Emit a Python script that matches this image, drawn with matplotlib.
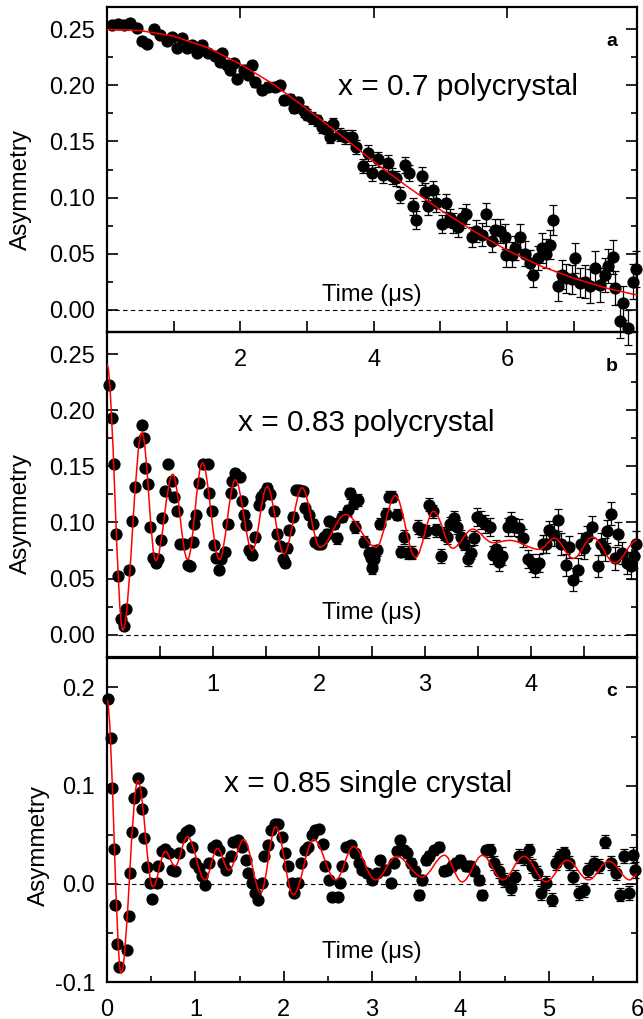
import numpy as np
import matplotlib
matplotlib.use("Agg")
import matplotlib.pyplot as plt
from matplotlib.path import Path
from matplotlib.patches import PathPatch
from matplotlib.ticker import FixedLocator, MultipleLocator, FormatStrFormatter

plt.rcParams['font.family'] = ['Liberation Sans', 'DejaVu Sans']
plt.rcParams['axes.unicode_minus'] = False

# ---- panel a : x = 0.7 polycrystal ----
t_a = [0.07, 0.17, 0.25, 0.35, 0.45, 0.52, 0.60, 0.70, 0.80, 0.90,
       0.97, 1.05, 1.12, 1.20, 1.27, 1.35, 1.42, 1.52, 1.62, 1.70,
       1.72, 1.80, 1.85, 1.90, 1.95, 2.05, 2.12, 2.17, 2.22, 2.32,
       2.42, 2.52, 2.60, 2.65, 2.75, 2.80, 2.87, 2.95, 3.00, 3.07,
       3.15, 3.22, 3.29, 3.34, 3.39, 3.49, 3.57, 3.67, 3.74, 3.84,
       3.92, 3.97, 4.07, 4.14, 4.22, 4.27, 4.34, 4.39, 4.47, 4.53,
       4.59, 4.64, 4.72, 4.77, 4.82, 4.89, 4.94, 5.02, 5.08, 5.14,
       5.19, 5.27, 5.32, 5.39, 5.47, 5.54, 5.62, 5.69, 5.77, 5.82,
       5.89, 5.97, 5.99, 6.07, 6.12, 6.19, 6.27, 6.34, 6.39, 6.47,
       6.52, 6.59, 6.64, 6.69, 6.77, 6.82, 6.89, 6.97, 7.02, 7.09,
       7.17, 7.24, 7.32, 7.39, 7.47, 7.52, 7.59, 7.62, 7.69, 7.74,
       7.82, 7.89, 7.94]
asym_a = [0.254, 0.255, 0.254, 0.256, 0.251, 0.240, 0.237, 0.250, 0.245, 0.240,
          0.243, 0.233, 0.242, 0.233, 0.236, 0.229, 0.236, 0.229, 0.226, 0.221,
          0.229, 0.218, 0.214, 0.220, 0.206, 0.214, 0.209, 0.218, 0.203, 0.196,
          0.199, 0.199, 0.200, 0.187, 0.188, 0.180, 0.185, 0.177, 0.174, 0.171,
          0.169, 0.163, 0.162, 0.154, 0.166, 0.156, 0.154, 0.154, 0.145, 0.128,
          0.140, 0.122, 0.134, 0.120, 0.131, 0.119, 0.117, 0.102, 0.129, 0.122,
          0.092, 0.080, 0.119, 0.105, 0.092, 0.107, 0.095, 0.076, 0.095, 0.082,
          0.077, 0.074, 0.082, 0.085, 0.065, 0.070, 0.067, 0.085, 0.061, 0.071,
          0.070, 0.065, 0.049, 0.049, 0.055, 0.065, 0.050, 0.042, 0.031, 0.046,
          0.055, 0.050, 0.058, 0.080, 0.021, 0.031, 0.028, 0.027, 0.046, 0.024,
          0.025, 0.021, 0.037, 0.022, 0.031, 0.039, 0.047, 0.019, -0.010, 0.006,
          -0.016, 0.025, 0.036]
err_a = [0.003, 0.003, 0.003, 0.003, 0.003, 0.003, 0.003, 0.003, 0.003, 0.003,
         0.003, 0.003, 0.003, 0.003, 0.003, 0.003, 0.003, 0.003, 0.003, 0.003,
         0.003, 0.003, 0.003, 0.003, 0.003, 0.003, 0.003, 0.004, 0.004, 0.004,
         0.004, 0.004, 0.004, 0.004, 0.004, 0.005, 0.005, 0.005, 0.005, 0.005,
         0.005, 0.005, 0.005, 0.005, 0.005, 0.006, 0.006, 0.006, 0.006, 0.006,
         0.007, 0.007, 0.007, 0.007, 0.007, 0.007, 0.007, 0.007, 0.007, 0.007,
         0.008, 0.008, 0.008, 0.008, 0.008, 0.008, 0.008, 0.008, 0.008, 0.008,
         0.009, 0.009, 0.009, 0.009, 0.009, 0.010, 0.010, 0.010, 0.010, 0.010,
         0.011, 0.011, 0.011, 0.011, 0.011, 0.011, 0.011, 0.011, 0.011, 0.011,
         0.013, 0.013, 0.013, 0.013, 0.013, 0.013, 0.013, 0.013, 0.013, 0.013,
         0.015, 0.015, 0.015, 0.015, 0.015, 0.015, 0.015, 0.015, 0.015, 0.015,
         0.016, 0.016, 0.016]
fit_t_a = [0.0, 0.5, 1.0, 1.5, 2.0, 2.5, 3.0, 3.5, 4.0, 4.5,
           5.0, 5.5, 6.0, 6.5, 7.0, 7.5, 7.95]
fit_a = [0.250, 0.249, 0.244, 0.234, 0.219, 0.201, 0.179, 0.156, 0.132, 0.110,
         0.089, 0.070, 0.053, 0.039, 0.028, 0.019, 0.013]

# ---- panel b : x = 0.83 polycrystal ----
t_b = [0.02, 0.044, 0.066, 0.088, 0.107, 0.129, 0.16, 0.18, 0.21, 0.24,
       0.26, 0.30, 0.33, 0.35, 0.36, 0.39, 0.41, 0.43, 0.46, 0.48,
       0.51, 0.52, 0.55, 0.58, 0.61, 0.63, 0.66, 0.69, 0.73, 0.76,
       0.78, 0.81, 0.82, 0.84, 0.87, 0.91, 0.95, 0.96, 0.99, 1.01,
       1.03, 1.06, 1.08, 1.11, 1.14, 1.17, 1.18, 1.21, 1.25, 1.27,
       1.29, 1.31, 1.34, 1.37, 1.40, 1.43, 1.45, 1.48, 1.51, 1.54,
       1.58, 1.60, 1.63, 1.66, 1.68, 1.70, 1.72, 1.75, 1.78, 1.81,
       1.85, 1.87, 1.91, 1.94, 1.96, 1.99, 2.02, 2.05, 2.08, 2.09,
       2.14, 2.17, 2.22, 2.27, 2.29, 2.33, 2.34, 2.37, 2.42, 2.47,
       2.49, 2.50, 2.52, 2.55, 2.58, 2.63, 2.66, 2.69, 2.74, 2.77,
       2.80, 2.84, 2.88, 2.93, 2.96, 3.01, 3.04, 3.08, 3.10, 3.15,
       3.18, 3.21, 3.24, 3.27, 3.30, 3.34, 3.37, 3.41, 3.43, 3.46,
       3.49, 3.53, 3.57, 3.61, 3.64, 3.67, 3.70, 3.73, 3.78, 3.81,
       3.84, 3.89, 3.92, 3.97, 4.01, 4.04, 4.08, 4.11, 4.14, 4.17,
       4.22, 4.25, 4.28, 4.33, 4.36, 4.40, 4.44, 4.47, 4.50, 4.53,
       4.58, 4.63, 4.66, 4.70, 4.72, 4.75, 4.79, 4.82, 4.86, 4.91,
       4.94, 4.97, 4.995]
asym_b = [0.223, 0.193, 0.152, 0.090, 0.052, 0.014, 0.008, 0.023, 0.058, 0.101,
          0.132, 0.172, 0.187, 0.175, 0.149, 0.134, 0.096, 0.068, 0.064, 0.067,
          0.084, 0.104, 0.128, 0.152, 0.137, 0.123, 0.110, 0.081, 0.081, 0.062,
          0.061, 0.083, 0.099, 0.107, 0.135, 0.152, 0.152, 0.126, 0.110, 0.080,
          0.068, 0.058, 0.067, 0.074, 0.099, 0.126, 0.137, 0.144, 0.141, 0.119,
          0.107, 0.098, 0.075, 0.071, 0.087, 0.116, 0.123, 0.126, 0.131, 0.125,
          0.110, 0.090, 0.079, 0.067, 0.064, 0.077, 0.093, 0.105, 0.129, 0.129,
          0.128, 0.113, 0.107, 0.099, 0.083, 0.081, 0.081, 0.087, 0.090, 0.101,
          0.099, 0.086, 0.105, 0.111, 0.126, 0.117, 0.096, 0.120, 0.083, 0.073,
          0.068, 0.059, 0.067, 0.075, 0.099, 0.108, 0.123, 0.123, 0.107, 0.074,
          0.087, 0.073, 0.073, 0.096, 0.093, 0.092, 0.116, 0.110, 0.093, 0.070,
          0.090, 0.087, 0.099, 0.104, 0.096, 0.087, 0.081, 0.067, 0.073, 0.086,
          0.105, 0.102, 0.099, 0.096, 0.071, 0.076, 0.065, 0.070, 0.096, 0.101,
          0.096, 0.095, 0.086, 0.067, 0.064, 0.059, 0.064, 0.081, 0.081, 0.093,
          0.089, 0.102, 0.081, 0.062, 0.078, 0.049, 0.058, 0.081, 0.077, 0.087,
          0.096, 0.061, 0.081, 0.076, 0.092, 0.108, 0.068, 0.090, 0.073, 0.064,
          0.061, 0.070, 0.081]
err_b = [0.003, 0.003, 0.003, 0.003, 0.003, 0.003, 0.003, 0.003, 0.003, 0.003,
         0.003, 0.003, 0.003, 0.003, 0.003, 0.003, 0.003, 0.003, 0.003, 0.003,
         0.003, 0.003, 0.003, 0.003, 0.003, 0.003, 0.003, 0.003, 0.003, 0.003,
         0.003, 0.003, 0.003, 0.003, 0.003, 0.003, 0.003, 0.003, 0.003, 0.003,
         0.003, 0.003, 0.003, 0.003, 0.003, 0.003, 0.003, 0.003, 0.003, 0.003,
         0.004, 0.004, 0.004, 0.004, 0.004, 0.004, 0.004, 0.004, 0.004, 0.004,
         0.004, 0.004, 0.004, 0.004, 0.004, 0.004, 0.004, 0.004, 0.004, 0.004,
         0.004, 0.004, 0.004, 0.004, 0.004, 0.004, 0.004, 0.004, 0.004, 0.004,
         0.005, 0.005, 0.005, 0.005, 0.005, 0.005, 0.005, 0.005, 0.005, 0.005,
         0.005, 0.005, 0.005, 0.005, 0.005, 0.005, 0.005, 0.005, 0.005, 0.005,
         0.006, 0.006, 0.006, 0.006, 0.006, 0.006, 0.006, 0.006, 0.006, 0.006,
         0.006, 0.006, 0.006, 0.006, 0.006, 0.006, 0.006, 0.006, 0.006, 0.006,
         0.008, 0.008, 0.008, 0.008, 0.008, 0.008, 0.008, 0.008, 0.008, 0.008,
         0.008, 0.008, 0.008, 0.008, 0.008, 0.008, 0.008, 0.008, 0.008, 0.008,
         0.010, 0.010, 0.010, 0.010, 0.010, 0.010, 0.010, 0.010, 0.010, 0.010,
         0.010, 0.010, 0.010, 0.010, 0.010, 0.010, 0.010, 0.010, 0.010, 0.010,
         0.011, 0.011, 0.011]
# turning points of the red fit curve
fit_t_b = [0.00, 0.15, 0.33, 0.46, 0.62, 0.76, 0.90, 1.06, 1.21, 1.37,
           1.51, 1.67, 1.84, 2.01, 2.25, 2.54, 2.72, 2.91, 3.08, 3.26,
           3.45, 3.64, 3.80, 4.08, 4.22, 4.40, 4.58, 4.79, 5.00]
fit_b = [0.241, 0.004, 0.180, 0.066, 0.143, 0.067, 0.153, 0.067, 0.138, 0.075,
         0.132, 0.072, 0.131, 0.078, 0.107, 0.078, 0.124, 0.069, 0.110, 0.077,
         0.094, 0.082, 0.084, 0.076, 0.086, 0.068, 0.087, 0.064, 0.084]

# ---- panel c : x = 0.85 single crystal ----
t_c = [0.01, 0.04, 0.057, 0.075, 0.094, 0.11, 0.14, 0.23, 0.245, 0.26,
       0.28, 0.31, 0.35, 0.38, 0.40, 0.42, 0.45, 0.49, 0.51, 0.57,
       0.58, 0.62, 0.66, 0.70, 0.74, 0.77, 0.81, 0.85, 0.89, 0.93,
       0.96, 1.00, 1.04, 1.08, 1.11, 1.16, 1.20, 1.23, 1.27, 1.31,
       1.35, 1.40, 1.43, 1.48, 1.53, 1.57, 1.60, 1.64, 1.68, 1.71,
       1.75, 1.78, 1.82, 1.86, 1.90, 1.94, 1.98, 2.01, 2.05, 2.09,
       2.12, 2.16, 2.20, 2.24, 2.28, 2.32, 2.36, 2.40, 2.44, 2.47,
       2.51, 2.55, 2.61, 2.64, 2.66, 2.70, 2.76, 2.81, 2.85, 2.89,
       2.94, 3.00, 3.06, 3.09, 3.15, 3.21, 3.25, 3.28, 3.32, 3.36,
       3.40, 3.44, 3.49, 3.53, 3.57, 3.61, 3.64, 3.70, 3.76, 3.81,
       3.85, 3.91, 3.95, 4.00, 4.06, 4.11, 4.15, 4.21, 4.25, 4.29,
       4.34, 4.38, 4.44, 4.49, 4.57, 4.62, 4.66, 4.72, 4.78, 4.81,
       4.87, 4.91, 4.97, 5.04, 5.08, 5.13, 5.17, 5.23, 5.28, 5.34,
       5.40, 5.45, 5.51, 5.57, 5.64, 5.70, 5.76, 5.81, 5.85, 5.91,
       5.95, 5.98]
asym_c = [0.188, 0.148, 0.098, 0.035, -0.022, -0.061, -0.085, -0.067, -0.033, 0.011,
          0.053, 0.087, 0.108, 0.094, 0.076, 0.047, 0.017, 0.001, -0.015, 0.001,
          0.018, 0.033, 0.035, 0.031, 0.014, 0.013, 0.031, 0.048, 0.053, 0.055,
          0.038, 0.021, 0.016, 0.008, -0.001, 0.021, 0.038, 0.040, 0.034, 0.021,
          0.014, 0.028, 0.043, 0.045, 0.038, 0.024, 0.011, 0.001, -0.009, -0.016,
          0.001, 0.028, 0.040, 0.055, 0.061, 0.061, 0.048, 0.031, 0.018, 0.001,
          -0.009, 0.001, 0.021, 0.034, 0.038, 0.050, 0.055, 0.056, 0.041, 0.018,
          0.004, -0.013, -0.013, 0.001, 0.018, 0.038, 0.040, 0.031, 0.021, 0.014,
          0.011, 0.004, 0.011, 0.024, 0.014, 0.001, 0.021, 0.033, 0.045, 0.034,
          0.031, 0.021, 0.013, -0.011, 0.004, 0.024, 0.028, 0.034, 0.038, 0.013,
          0.014, 0.018, 0.021, 0.024, 0.018, 0.018, 0.013, 0.004, -0.011, 0.034,
          0.034, 0.021, 0.013, 0.004, -0.004, 0.007, 0.028, 0.026, 0.034, 0.018,
          0.011, -0.009, 0.001, -0.016, 0.021, 0.028, 0.031, 0.021, 0.007, -0.009,
          -0.006, 0.014, 0.021, 0.018, 0.043, 0.021, 0.011, -0.011, 0.028, -0.009,
          0.029, 0.014]
err_c = [0.003, 0.003, 0.003, 0.003, 0.003, 0.003, 0.003, 0.003, 0.003, 0.003,
         0.003, 0.003, 0.003, 0.003, 0.003, 0.003, 0.003, 0.003, 0.003, 0.003,
         0.003, 0.003, 0.003, 0.003, 0.003, 0.003, 0.003, 0.003, 0.003, 0.003,
         0.003, 0.003, 0.003, 0.003, 0.003, 0.003, 0.003, 0.003, 0.003, 0.003,
         0.003, 0.003, 0.003, 0.003, 0.003, 0.003, 0.003, 0.003, 0.003, 0.003,
         0.003, 0.003, 0.003, 0.003, 0.003, 0.003, 0.003, 0.003, 0.003, 0.003,
         0.003, 0.003, 0.003, 0.003, 0.003, 0.003, 0.003, 0.003, 0.003, 0.003,
         0.004, 0.004, 0.004, 0.004, 0.004, 0.004, 0.004, 0.004, 0.004, 0.004,
         0.004, 0.004, 0.004, 0.004, 0.004, 0.004, 0.004, 0.004, 0.004, 0.004,
         0.005, 0.005, 0.005, 0.005, 0.005, 0.005, 0.005, 0.005, 0.005, 0.005,
         0.005, 0.005, 0.005, 0.005, 0.005, 0.005, 0.005, 0.005, 0.005, 0.005,
         0.007, 0.007, 0.007, 0.007, 0.007, 0.007, 0.007, 0.007, 0.007, 0.007,
         0.007, 0.007, 0.007, 0.007, 0.007, 0.007, 0.007, 0.007, 0.007, 0.007,
         0.007, 0.007, 0.007, 0.007, 0.007, 0.007, 0.007, 0.007, 0.007, 0.007,
         0.008, 0.008]
fit_t_c = [0.00, 0.16, 0.35, 0.52, 0.66, 0.77, 0.91, 1.11, 1.25, 1.38,
           1.55, 1.74, 1.91, 2.11, 2.34, 2.59, 2.79, 3.04, 3.28, 3.57,
           3.82, 4.02, 4.25, 4.48, 4.72, 4.97, 5.21, 5.45, 5.68, 5.92, 6.00]
fit_c = [0.187, -0.091, 0.105, -0.003, 0.033, 0.018, 0.048, 0.004, 0.036, 0.014,
         0.045, -0.009, 0.058, -0.011, 0.045, 0.004, 0.038, 0.004, 0.028, 0.007,
         0.029, 0.002, 0.029, 0.004, 0.028, 0.002, 0.024, 0.004, 0.023, 0.004, 0.010]


def smooth_curve(xs, ys):
    # cubic segments with flat tangents at each turning point
    verts = [(xs[0], ys[0])]
    codes = [Path.MOVETO]
    for x0, y0, x1, y1 in zip(xs[:-1], ys[:-1], xs[1:], ys[1:]):
        d = (x1 - x0) * 0.36
        verts += [(x0 + d, y0), (x1 - d, y1), (x1, y1)]
        codes += [Path.CURVE4] * 3
    return Path(verts, codes)


fig = plt.figure(figsize=(6.43, 10.19), dpi=100)
left, width = 0.1664, 0.8243
ax_a = fig.add_axes([left, 0.6742, width, 0.3189])
ax_b = fig.add_axes([left, 0.3553, width, 0.3189])
ax_c = fig.add_axes([left, 0.0363, width, 0.3180])

panels = [
    (ax_a, t_a, asym_a, err_a, 'a'),
    (ax_b, t_b, asym_b, err_b, 'b'),
    (ax_c, t_c, asym_c, err_c, 'c'),
]

for ax, t, asym, err, letter in panels:
    ax.set_facecolor('none')
    ax.errorbar(t, asym, yerr=err, fmt='o', color='black', ms=7.8,
                ecolor='black', elinewidth=0.9, capsize=3.2, capthick=0.9,
                zorder=3, clip_on=False)
    for s in ax.spines.values():
        s.set_linewidth(1.6)
    ax.tick_params(which='both', direction='in', right=True, width=1.2,
                   labelsize=17)
    ax.tick_params(which='major', length=8)
    ax.tick_params(which='minor', length=4.5)
    ax.tick_params(axis='x', pad=12)
    ax.tick_params(axis='y', pad=8.5)
    ax.set_ylabel('Asymmetry', fontsize=17.5)
    ax.text(0.952, 0.895, letter, transform=ax.transAxes, fontsize=14,
            fontweight='bold', ha='center', va='center')

# panel a
ax_a.plot(fit_t_a, fit_a, color='red', lw=1.1, zorder=4)
ax_a.plot([0, 7.47], [0, 0], color='black', lw=0.8, ls=(0, (4, 3)), zorder=2)
ax_a.set_xlim(0, 7.95)
ax_a.set_ylim(-0.02, 0.27)
ax_a.xaxis.set_major_locator(FixedLocator([2, 4, 6]))
ax_a.xaxis.set_minor_locator(FixedLocator([1, 3, 5, 7]))
ax_a.tick_params(axis='x', which='minor', length=8)
ax_a.tick_params(axis='x', top=True)
ax_a.yaxis.set_major_locator(MultipleLocator(0.05))
ax_a.yaxis.set_minor_locator(MultipleLocator(0.025))
ax_a.yaxis.set_major_formatter(FormatStrFormatter('%.2f'))
ax_a.text(3.46, 0.1986, 'x = 0.7 polycrystal', fontsize=21.5, va='center')
ax_a.text(3.22, 0.0134, 'Time (μs)', fontsize=17, va='center')
ax_a.yaxis.set_label_coords(-0.141, 0.44)

# panel b
ax_b.add_patch(PathPatch(smooth_curve(fit_t_b, fit_b), fill=False,
                         edgecolor='red', lw=1.1, zorder=4))
ax_b.plot([0.1, 5.0], [0, 0], color='black', lw=0.8, ls=(0, (4, 3)), zorder=2)
ax_b.set_xlim(0, 5.0)
ax_b.set_ylim(-0.02, 0.27)
ax_b.xaxis.set_major_locator(FixedLocator([1, 2, 3, 4]))
ax_b.xaxis.set_minor_locator(FixedLocator([0.5, 1.5, 2.5, 3.5, 4.5]))
ax_b.tick_params(axis='x', which='minor', length=8)
ax_b.yaxis.set_major_locator(MultipleLocator(0.05))
ax_b.yaxis.set_minor_locator(MultipleLocator(0.025))
ax_b.yaxis.set_major_formatter(FormatStrFormatter('%.2f'))
ax_b.text(1.24, 0.189, 'x = 0.83 polycrystal', fontsize=21.5, va='center')
ax_b.text(2.03, 0.019, 'Time (μs)', fontsize=17, va='center')
ax_b.yaxis.set_label_coords(-0.141, 0.44)

# panel c
ax_c.add_patch(PathPatch(smooth_curve(fit_t_c, fit_c), fill=False,
                         edgecolor='red', lw=1.1, zorder=4))
ax_c.plot([0.1, 6.0], [0, 0], color='black', lw=0.8, ls=(0, (4, 3)), zorder=2)
ax_c.set_xlim(0, 6.0)
ax_c.set_ylim(-0.1, 0.23)
ax_c.xaxis.set_major_locator(MultipleLocator(1))
ax_c.xaxis.set_minor_locator(MultipleLocator(0.5))
ax_c.yaxis.set_major_locator(FixedLocator([-0.1, 0.0, 0.1, 0.2]))
ax_c.yaxis.set_minor_locator(FixedLocator([-0.05, 0.05, 0.15]))
ax_c.yaxis.set_major_formatter(FormatStrFormatter('%.1f'))
ax_c.text(1.32, 0.102, 'x = 0.85 single crystal', fontsize=21.5, va='center')
ax_c.text(2.43, -0.069, 'Time (μs)', fontsize=17, va='center')
ax_c.yaxis.set_label_coords(-0.108, 0.42)

fig.savefig('out.png', dpi=100)
